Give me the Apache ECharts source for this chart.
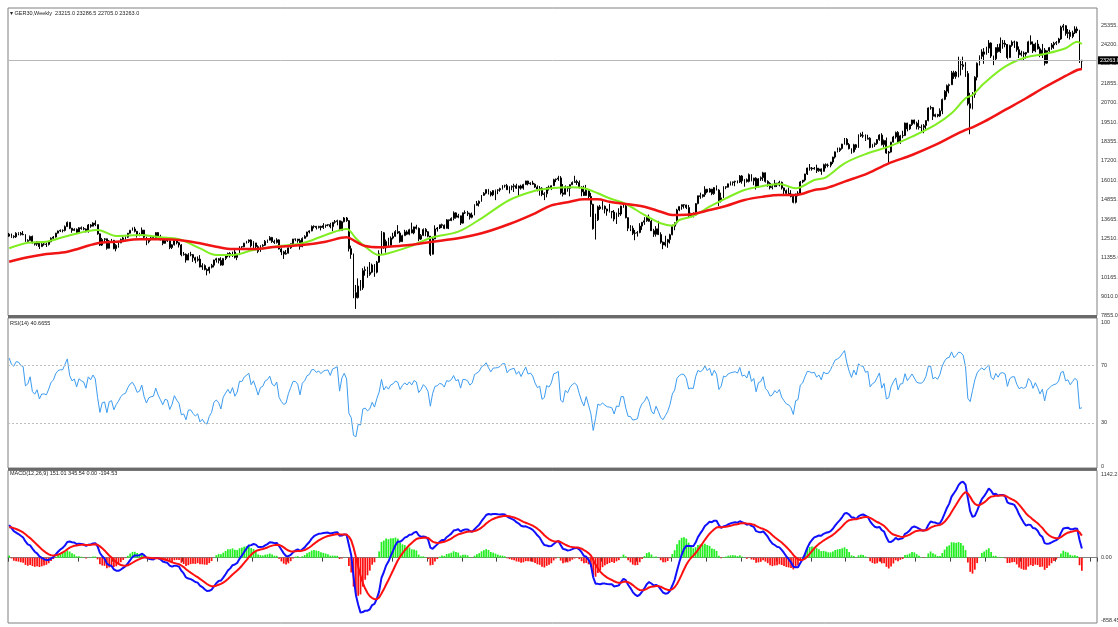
<!DOCTYPE html>
<html><head><meta charset="utf-8">
<script src="https://cdn.jsdelivr.net/npm/echarts@6/dist/echarts.min.js"></script>
<style>html,body{margin:0;padding:0;background:#fff}#c{width:1118px;height:627px}</style>
</head><body><div id="c"></div>
<script>
const symbolName = 'GER30,Weekly';
const startWeek = '2017-05-08';
const firstOpen = 12650;
const closes = [
12770,12638,12602,12823,12815,12753,12733,12325,12389,12631,
12240,12163,12298,12014,12165,12168,12143,12304,12519,12592,
12829,12956,12992,12991,13218,13478,13127,12994,13060,12861,
13153,13104,13073,12918,13320,13245,13434,13340,12785,12107,
12452,12483,11914,12346,12390,11886,12097,12241,12442,12540,
12581,12820,13001,13078,12938,12724,12767,13011,12580,12306,
12497,12541,12561,12860,12616,12425,12211,12394,12364,11960,
12124,12431,12247,12112,11524,11554,11201,11519,11529,11341,
11192,11257,10788,10866,10634,10559,10767,10887,11205,11282,
11181,10906,11299,11457,11602,11457,11686,11364,11526,12010,
11999,12222,12315,12412,12060,12238,12011,11727,12045,12096,
12340,12399,12568,12323,12260,12419,11872,11694,11563,11612,
11939,12192,12469,12468,12381,12013,12512,12634,12895,12961,
13229,13242,13164,13236,13167,13283,13319,13337,13219,13483,
13526,13577,12982,13514,13745,13579,11890,11542,9232,8929,
9633,9525,10565,10626,10336,10467,10905,10465,11074,11587,
12848,11949,12331,12089,12528,12633,12920,12838,12313,12674,
12901,12765,13033,12842,13203,13116,12469,12689,13051,12909,
12646,11556,12480,13077,13137,13336,13299,13114,13631,13587,
13719,14050,13788,13873,13433,14057,14050,13993,13786,13921,
14502,14621,14749,15107,15234,15460,15280,15136,15400,15416,
15438,15520,15693,15693,15448,15607,15650,15688,15540,15669,
15544,15761,15977,15808,15852,15781,15609,15490,15531,15156,
15206,15587,15543,15688,16054,16094,16160,15257,15170,15623,
15532,15756,15885,15948,15883,15603,15318,15100,15425,15042,
14567,13094,13628,14413,14306,14446,14284,14164,14142,14098,
13674,14027,13982,14462,14460,13762,13127,13118,12813,12833,
12865,13254,13484,13574,13795,13544,12971,12761,13088,12741,
12284,12114,12273,12438,12731,13243,13460,14225,14432,14541,
14529,14371,13894,13941,13924,14610,15087,15033,15150,15476,
15308,15482,15210,15578,15428,14768,14957,15629,15598,15808,
15882,15922,15961,15914,16275,15983,16051,15949,16358,15989,
16148,15603,16105,16177,16469,15952,15832,15574,15632,15840,
15740,15893,15557,15387,15230,15187,15043,14688,15189,15235,
15919,16030,16398,16759,16751,16706,16752,16594,16705,16555,
16961,16918,16927,17117,17419,17735,17814,17937,18206,18492,
18175,17930,17737,18161,18001,18773,18704,18693,18498,18557,
18002,18164,18235,18475,18748,18172,18418,17661,17723,18322,
18633,18907,18302,18699,18720,19474,19121,19373,19658,19463,
19255,19215,19211,19323,19626,20385,20406,19885,19984,19906,
20215,20903,21395,21732,21787,22513,22287,22551,23009,22987,
22892,22461,20642,20374,21206,22242,23087,23499,23767,23630,
23997,24304,23516,23350,24033,23787,24255,24290,24218,23426,
24163,24359,24363,23902,23597,23698,23639,23739,24378,24241,
23831,24240,23958,23569,23877,23091,23836,24030,24190,24290,
24340,24550,25260,25350,24880,24950,24700,24920,25150,25050,
23215,23263];
const highs = [
12840,12800,12700,12880,12880,12900,12950,12770,12460,12680,
12680,12300,12330,12300,12260,12250,12250,12330,12570,12650,
12840,12980,13050,13050,13290,13530,13470,13140,13120,13110,
13190,13230,13200,13110,13380,13370,13480,13600,13350,12810,
12540,12530,12500,12410,12480,12420,12160,12320,12500,12620,
12640,12840,13020,13170,13210,12960,12850,13170,13020,12610,
12520,12610,12660,12890,12890,12730,12450,12440,12500,12390,
12160,12470,12460,12300,12160,11690,11600,11620,11700,11570,
11400,11420,11500,11010,10940,10700,10800,10970,11220,11340,
11330,11370,11330,11470,11650,11680,11710,11820,11580,12040,
12030,12240,12360,12440,12450,12340,12240,12100,12100,12160,
12410,12440,12650,12600,12430,12520,12460,11920,11760,11810,
11960,12200,12480,12500,12480,12490,12570,12700,12910,13000,
13290,13300,13250,13270,13270,13430,13340,13360,13450,13500,
13620,13640,13590,13570,13800,13800,13620,12070,11600,9700,
10100,10000,10710,10820,10800,11080,10990,10960,11150,11790,
12950,12900,12440,12550,12630,12850,13010,13310,12950,12730,
13030,13000,13090,13460,13220,13330,13170,12770,13110,13130,
12950,12650,12560,13300,13200,13340,13400,13350,13680,13640,
13780,14140,14090,13990,13880,14070,14200,14170,14060,14070,
14570,14770,14800,15120,15300,15470,15500,15360,15420,15460,
15480,15570,15730,15750,15800,15660,15710,15810,15810,15700,
15750,15810,15990,15990,15900,15990,15830,15710,15670,15600,
15300,15610,15700,15710,16110,16120,16290,16270,15790,15710,
15670,15770,15950,16290,16050,16010,15660,15690,15740,15460,
15260,14600,14000,14490,14530,14820,14500,14300,14600,14160,
14220,14070,14330,14480,14620,14620,13770,13310,13280,13020,
12950,13430,13500,13790,13830,13950,13620,13090,13250,13570,
12880,12320,12670,12480,12790,13340,13480,14300,14450,14560,
14560,14540,14530,14060,14080,14640,15090,15270,15170,15660,
15500,15550,15500,15600,15710,15480,15270,15660,15650,15820,
15950,15940,15990,16010,16330,16330,16100,16130,16430,16390,
16170,16200,16150,16250,16530,16480,16020,15900,15800,16040,
15860,15990,15940,15580,15460,15580,15420,15110,15210,15360,
15980,16030,16410,16780,17000,16820,16820,16960,16770,16730,
17020,17040,17030,17130,17440,17760,17990,18000,18220,18570,
18570,18270,17940,18220,18210,18790,18890,18950,18790,18770,
18620,18220,18300,18510,18800,18860,18480,18600,17790,18340,
18700,18960,18990,18760,19010,19500,19490,19390,19670,19680,
19560,19670,19380,19410,19640,20420,20520,20430,20040,20030,
20360,20950,21460,21800,21850,22620,22630,22620,23480,23300,
23480,23150,22620,21300,21340,22300,23130,23560,23930,24000,
24080,24480,24350,23550,24050,24240,24640,24490,24480,24230,
24200,24460,24450,24400,24100,23840,23800,23760,24440,24770,
24400,24330,24490,24090,24250,24000,23850,24070,24300,24380,
24420,24620,25350,25460,25380,25150,25100,25050,25320,25300,
25100,23286.5];
const lows = [
12600,12540,12520,12540,12700,12680,12700,12300,12250,12380,
12200,12080,12060,11870,11990,12070,11990,12080,12280,12450,
12560,12800,12900,12870,12930,13200,13070,12850,12950,12820,
12850,13030,13000,12880,12860,13150,13230,13250,12730,12050,
12050,12240,11830,11900,12230,11860,11730,11950,12220,12400,
12430,12530,12800,12980,12870,12560,12640,12700,12480,12100,
12210,12380,12450,12460,12590,12390,12100,12190,12300,11860,
11870,12080,12150,11960,11430,11470,11050,11200,11430,11090,
11010,11110,10760,10610,10580,10280,10390,10700,10760,11050,
11000,10860,10860,11200,11370,11350,11390,11300,11200,11500,
11850,11980,12200,12230,11960,11850,11930,11620,11690,12000,
12050,12240,12390,12240,12180,12200,11840,11500,11270,11530,
11620,11880,12140,12340,12250,11830,11980,12500,12580,12810,
12940,13110,13050,13110,12990,13080,13150,13240,13120,12950,
13400,13300,12950,12980,13480,13510,11720,11280,8900,8250,
8880,9350,9400,10260,10130,10250,10410,10190,10400,11030,
11560,11880,11650,11980,12030,12450,12610,12770,12250,12290,
12670,12710,12700,12820,12760,13050,12340,12410,12650,12640,
12580,11450,11530,12470,12920,13080,13140,13070,13110,13070,
13550,13600,13700,13730,13320,13400,13990,13860,13650,13720,
13900,14480,14440,14720,15080,15170,15160,15040,15060,14820,
15180,15330,15460,15570,15430,15220,15420,15310,15500,15070,
15450,15450,15740,15710,15730,15750,15560,15350,15090,15060,
14820,14990,15400,15430,15680,15910,15980,15160,15040,15160,
15330,15050,15730,15880,15740,15530,15050,15070,15080,14900,
13810,13040,12440,13560,14230,14240,14020,13880,14070,13720,
13540,13380,13810,13870,14360,13720,12950,12950,12710,12400,
12620,12820,13020,13330,13510,13520,12960,12600,12620,12710,
12190,11860,12020,11940,12200,12700,13000,13360,14150,14240,
14310,14280,13800,13800,13780,13900,14570,14900,14970,15020,
15240,15280,15120,15140,15400,14460,14680,14960,15480,15580,
15700,15700,15660,15830,15860,15810,15630,15880,15890,15950,
15720,15460,15600,15980,15980,15880,15630,15470,15470,15610,
15610,15650,15460,15140,15100,15080,14990,14630,14620,15050,
15200,15840,15940,16340,16600,16600,16660,16460,16530,16350,
16560,16740,16800,16800,17000,17330,17700,17730,17870,18170,
18130,17880,17620,17690,17870,17970,18630,18580,18390,18480,
17950,17990,18030,18160,18400,18120,18000,17620,17020,17690,
18300,18530,18250,18220,18560,18690,18970,19050,19300,19390,
19090,19080,18880,18860,19090,19570,20280,19660,19820,19820,
19850,20010,20850,21060,21270,21780,22140,22150,22230,22350,
22690,22260,20530,18800,20300,21000,22050,22950,23330,23050,
23600,23700,23400,22970,23280,23720,23700,23960,24050,23330,
23400,24080,24010,23780,23400,23500,23280,23370,23710,24200,
23700,23750,23910,23450,23400,22950,23050,23720,23900,23950,
24180,24280,24500,25050,24750,24600,24520,24600,24850,24900,
23100,22705];
// moving averages: [bar index, price]
const fastMA = [[0,11912],[8,12250],[16,12310],[25,12655],[38,13018],[46,12655],[56,12716],[65,12577],[73,12456],[82,11912],[89,11508],[96,11508],[105,11810],[114,12010],[126,12214],[136,12716],[145,13078],[149,12516],[153,12010],[159,11508],[163,11610],[172,12010],[182,12577],[193,12915],[203,13724],[215,14829],[226,15391],[233,15536],[241,15596],[247,15536],[253,15234],[258,14932],[265,14588],[273,13923],[280,13422],[285,13277],[288,13621],[294,13863],[301,14425],[308,14932],[316,15433],[324,15674],[331,15795],[338,15536],[346,16034],[351,16200],[359,17045],[369,17649],[378,18047],[388,18651],[398,19358],[405,20064],[411,20970],[414,21169],[419,21875],[428,22878],[437,23445],[445,23644],[454,23989],[459,24388],[461,24248]];
const slowMA = [[0,11104],[8,11369],[16,11568],[25,11707],[38,12214],[46,12311],[56,12456],[65,12456],[73,12414],[82,12214],[89,12010],[96,11870],[105,11870],[114,11990],[126,12112],[136,12311],[145,12577],[149,12311],[153,12052],[159,11973],[163,12010],[172,12112],[182,12311],[193,12516],[203,12818],[215,13380],[226,14026],[233,14500],[241,14726],[247,14871],[253,14871],[258,14726],[265,14588],[273,14425],[280,14123],[285,13923],[288,13923],[294,13984],[301,14225],[308,14467],[316,14829],[324,15028],[331,15131],[338,15131],[346,15433],[351,15536],[359,15934],[369,16441],[378,17045],[388,17546],[398,18150],[405,18651],[411,19056],[414,19218],[419,19556],[428,20264],[437,20970],[445,21634],[454,22316],[459,22678],[461,22739]];
const priceTicks = [7855,9010,10165,11355,12510,13665,14855,16010,17200,18355,19510,20700,21855,23045,24200,25355];
const rsiTicks = [0,30,70,100];
const rsiLevels = [30,70];
const macdTicks = [-858.45,0,1142.23];
const macdSeed = [450,420]; // MACD / signal at the first bar
const rsiSeed = [75,160];   // RSI at the first bar (read) and average weekly move used to seed Wilder averages
const rsiText = 'RSI(14) 40.6655';
const macdText = 'MACD(12,26,9) 151.01 345.54 0.00 -194.53';

const n = closes.length, PAD = 6;
const opens = closes.map((c,i)=> i===0 ? firstOpen : closes[i-1]);
const cats = [];
const d0 = Date.parse(startWeek+'T00:00:00Z');
for (let i=0;i<n+PAD;i++) cats.push(new Date(d0+i*7*864e5).toISOString().slice(0,10));
const candles = closes.map((c,i)=>[opens[i], c, lows[i], highs[i]]);

// RSI(14), Wilder smoothing
let ag=rsiSeed[1]*rsiSeed[0]/100, al=rsiSeed[1]*(100-rsiSeed[0])/100;
const rsi=[rsiSeed[0]];
for (let i=1;i<n;i++){ const d=closes[i]-closes[i-1]; const g=Math.max(d,0), l=Math.max(-d,0);
  ag=(ag*13+g)/14; al=(al*13+l)/14;
  rsi.push(al===0?100:100-100/(1+ag/al)); }
// MACD(12,26,9)
let e12=closes[0], e26=closes[0]-macdSeed[0], sig=macdSeed[1];
const macd=[], signal=[], hist=[];
for (let i=0;i<n;i++){ if(i>0){ e12+= (closes[i]-e12)*2/13; e26+=(closes[i]-e26)*2/27; }
  const m=e12-e26; if(i>0) sig+=(m-sig)*2/10; macd.push(m); signal.push(sig); hist.push(m-sig); }

const last = n-1;
const header = '\u25BE ' + symbolName + '  ' + [opens[last],highs[last],lows[last],closes[last]].map(v=>v.toFixed(1)).join(' ');
const F = 'Liberation Sans, Arial, sans-serif';
const lab = {fontSize:5.5, color:'#333', fontFamily:F, margin:4, align:'left'};
const G = {left:8, right:21, show:true, borderColor:'#808080', borderWidth:1, backgroundColor:'#fff', containLabel:false, outerBoundsMode:'none'};
const xa = (gi, extra)=>Object.assign({type:'category', gridIndex:gi, data:cats, boundaryGap:true,
  axisLine:{show:false}, axisTick:{show:false}, axisLabel:{show:false}, splitLine:{show:false}}, extra||{});

const chart = echarts.init(document.getElementById('c'), null, {renderer:'canvas'});
chart.setOption({
  animation:false, backgroundColor:'#fff',
  grid:[Object.assign({top:8, height:307.5}, G), Object.assign({top:318, height:150}, G), Object.assign({top:470.5, height:152.5}, G)],
  xAxis:[xa(0), xa(1), xa(2, {axisLine:{show:true, lineStyle:{color:'#808080'}}, axisTick:{show:true, interval:14, length:4, lineStyle:{color:'#444'}}})],
  yAxis:[
    {type:'value', gridIndex:0, position:'right', min:7855, max:26420, splitLine:{show:false}, axisLine:{show:false}, axisTick:{show:false},
      axisLabel:Object.assign({customValues:priceTicks, formatter:v=>v.toFixed(1)}, lab)},
    {type:'value', gridIndex:1, position:'right', min:-1.39, max:102.78, splitLine:{show:false}, axisLine:{show:false}, axisTick:{show:false},
      axisLabel:Object.assign({customValues:rsiTicks, formatter:v=>String(v)}, lab)},
    {type:'value', gridIndex:2, position:'right', min:-899.8, max:1200, splitLine:{show:false}, axisLine:{show:false}, axisTick:{show:false},
      axisLabel:Object.assign({customValues:macdTicks, formatter:v=>v.toFixed(2)}, lab)}
  ],
  graphic:[
    {type:'rect', shape:{x:8, y:315, width:1089, height:3}, style:{fill:'#6a6a6a'}, z:100},
    {type:'rect', shape:{x:8, y:468, width:1089, height:2.5}, style:{fill:'#6a6a6a'}, z:100},
    {type:'text', x:10, y:13, style:{text:header, font:'5.5px '+F, fill:'#222', textVerticalAlign:'middle'}, z:100},
    {type:'text', x:10, y:323.5, style:{text:rsiText, font:'5.5px '+F, fill:'#222', textVerticalAlign:'middle'}, z:100},
    {type:'text', x:10, y:473.5, style:{text:macdText, font:'5.5px '+F, fill:'#222', textVerticalAlign:'middle'}, z:100}
  ],
  series:[
    {type:'candlestick', xAxisIndex:0, yAxisIndex:0, data:candles, barWidth:1.4,
      itemStyle:{color:'#ffffff', color0:'#000000', borderColor:'#000000', borderColor0:'#000000', borderWidth:1},
      markLine:{silent:true, symbol:'none', data:[{yAxis:closes[last]}], lineStyle:{color:'#b8b8b8', width:1, type:'solid'},
        label:{show:true, position:'end', distance:1, formatter:closes[last].toFixed(1), backgroundColor:'#000', color:'#fff', fontSize:5.5, fontFamily:F, padding:[1,2]}}},
    {type:'line', xAxisIndex:0, yAxisIndex:0, data:fastMA, showSymbol:false, smooth:0.35, lineStyle:{color:'#80ee22', width:2}, z:3},
    {type:'line', xAxisIndex:0, yAxisIndex:0, data:slowMA, showSymbol:false, smooth:0.35, lineStyle:{color:'#f01414', width:2.5}, z:3},
    {type:'line', xAxisIndex:1, yAxisIndex:1, data:rsi, showSymbol:false, lineStyle:{color:'#3c9cf0', width:1},
      markLine:{silent:true, symbol:'none', label:{show:false}, data:rsiLevels.map(v=>({yAxis:v})), lineStyle:{color:'#bdbdbd', width:1, type:[2,2]}}},
    {type:'bar', xAxisIndex:2, yAxisIndex:2, data:hist, barWidth:'75%', itemStyle:{color:p=>p.value>=0?'#22ee22':'#ff1010'}},
    {type:'line', xAxisIndex:2, yAxisIndex:2, data:macd, showSymbol:false, lineStyle:{color:'#1010ff', width:2}, z:3},
    {type:'line', xAxisIndex:2, yAxisIndex:2, data:signal, showSymbol:false, lineStyle:{color:'#ff1010', width:2}, z:4}
  ]
});
</script></body></html>
